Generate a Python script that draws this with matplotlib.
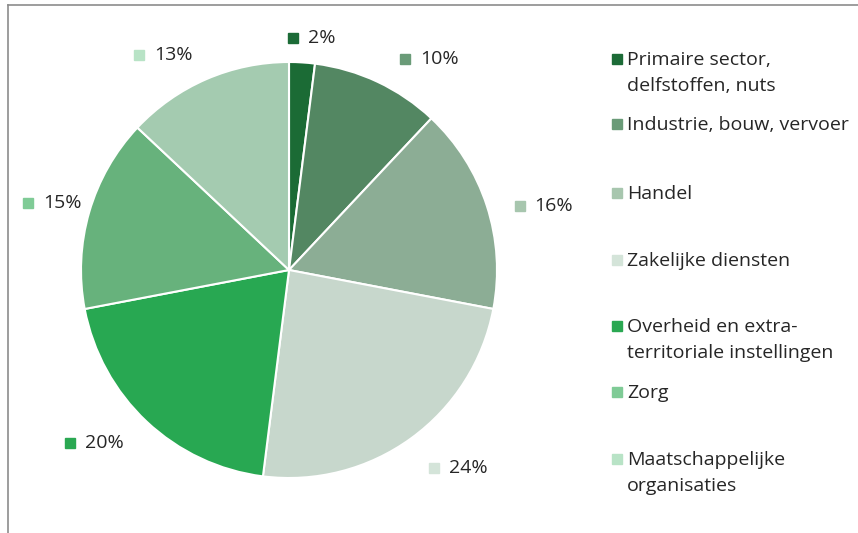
import matplotlib.pyplot as plt
import numpy as np
from matplotlib.lines import Line2D
from matplotlib.offsetbox import AnnotationBbox, DrawingArea, HPacker, TextArea
from matplotlib.patches import Rectangle

plt.rcParams['font.family'] = ['Open Sans', 'DejaVu Sans']

sectoren = ["Primaire sector,\ndelfstoffen, nuts",
            "Industrie, bouw, vervoer",
            "Handel",
            "Zakelijke diensten",
            "Overheid en extra-\nterritoriale instellingen",
            "Zorg",
            "Maatschappelijke\norganisaties"]
aandeel = [2, 10, 16, 24, 20, 15, 13]
kleuren = ["#1b6b35", "#538762", "#8cad95", "#c7d7cc", "#28a852", "#67b27c", "#a4cbb0"]
# legend / label squares are drawn a bit lighter in the original
kleuren_licht = ["#1c6b37", "#6a9b78", "#a7c6ae", "#d4e4d9", "#2aa852", "#7fcb96", "#b8e3c6"]

W, H = 858, 533
fig = plt.figure(figsize=(W / 100, H / 100), dpi=100)
px = 72 / 100  # points per pixel

# pie centre (289, 270) px, radius 208 px
cx, cy, r = 289, 270, 208
ax = fig.add_axes([(cx - r) / W, (H - cy - r) / H, 2 * r / W, 2 * r / H])
wedges, _ = ax.pie(aandeel, colors=kleuren, startangle=90, counterclock=False,
                   radius=1, wedgeprops=dict(edgecolor="white", linewidth=1.5))
ax.set_xlim(-1, 1)
ax.set_ylim(-1, 1)
ax.set_aspect("auto")
ax.axis("off")

tekstkleur = "#262626"
fs = 14

# label offsets (pixels) from the middle of each wedge's outer edge
label_offset = [(10, 24), (52, 23), (57, 0), (47, -30), (-52, -21), (-37, 9), (-43, 24)]

for w, v, k, off in zip(wedges, aandeel, kleuren_licht, label_offset):
    hoek = np.deg2rad((w.theta1 + w.theta2) / 2)
    da = DrawingArea(10 * px, 10 * px, 0, 0)
    da.add_artist(Rectangle((0, 0), 10 * px, 10 * px, color=k))
    ta = TextArea(f"{v}%", textprops=dict(fontsize=fs, color=tekstkleur))
    box = HPacker(children=[da, ta], align="center", pad=0, sep=10 * px)
    ab = AnnotationBbox(box, (np.cos(hoek), np.sin(hoek)), xycoords="data",
                        xybox=off, boxcoords="offset pixels",
                        box_alignment=(0.5, 0.5), frameon=False,
                        annotation_clip=False)
    ax.add_artist(ab)

# legend, Excel style: fixed slots, baseline of first line per entry
leg_basis = [65, 130, 199, 266, 332, 398, 465]
regel = 26  # line pitch in px
for naam, k, yy in zip(sectoren, kleuren_licht, leg_basis):
    fig.add_artist(Rectangle((612 / W, 1 - (yy - 1) / H), 10 / W, 10 / H,
                             color=k, transform=fig.transFigure))
    for i, deel in enumerate(naam.split("\n")):
        fig.text(627 / W, 1 - (yy + i * regel) / H, deel, fontsize=fs,
                 color=tekstkleur, va="baseline", ha="left")

# chart border (only left and top visible)
fig.add_artist(Line2D([8 / W, 8 / W], [0, 1 - 5 / H], color="#8c8c8c", lw=1.2))
fig.add_artist(Line2D([8 / W, 1], [1 - 5 / H, 1 - 5 / H], color="#8c8c8c", lw=1.2))

fig.savefig("out.png", dpi=100)
